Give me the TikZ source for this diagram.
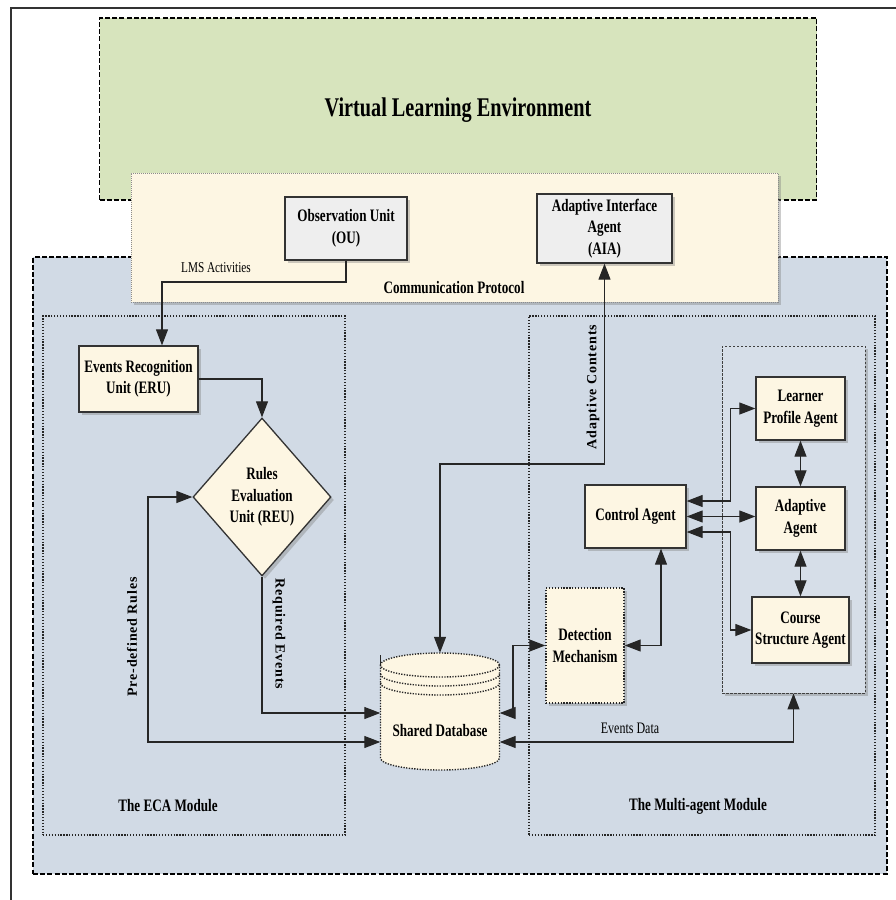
\documentclass[tikz,border=0pt]{standalone}
\usepackage{fontspec}
\setmainfont{Liberation Serif}[FakeStretch=0.75]
\newfontfamily\spacedfont{Liberation Serif}[LetterSpace=6]
\usetikzlibrary{arrows.meta,shapes.geometric,shadows,calc}

\definecolor{vlegreen}{HTML}{D7E4BD}
\definecolor{sysblue}{HTML}{D1DAE5}
\definecolor{agentsblue}{HTML}{D6DEE8}
\definecolor{cream}{HTML}{FDF6E3}
\definecolor{unitgray}{HTML}{EEEEEE}
\definecolor{edge}{HTML}{333333}

\tikzset{
  softshadow/.style={drop shadow={shadow xshift=3pt,shadow yshift=-3pt,opacity=0.4}},
  region/.style={draw=black,line width=1.5pt,dash pattern=on 5pt off 2.2pt,inner sep=0pt},
  module/.style={draw=black!85,line width=1.4pt,dash pattern=on 1.3pt off 1.6pt,inner sep=0pt},
  unitbox/.style={draw=edge,line width=1.3pt,fill=cream,align=center,inner sep=0pt,
    font=\fontsize{17.5}{21.5}\selectfont\bfseries,softshadow},
  graybox/.style={unitbox,fill=unitgray},
  conn/.style={draw=black!85,line width=1.1pt},
  fwd/.style={-{Triangle[length=16pt,width=12pt]}},
  bidi/.style={{Triangle[length=16pt,width=12pt]}-{Triangle[length=16pt,width=12pt]}},
  label/.style={font=\fontsize{17.5}{21}\selectfont\bfseries,inner sep=0pt},
  small/.style={font=\fontsize{15}{18}\selectfont,inner sep=0pt},
  sidelabel/.style={font=\spacedfont\fontsize{14}{16}\selectfont\bfseries,inner sep=0pt},
  dbline/.style={draw=black!85,line width=1.4pt,dash pattern=on 1.3pt off 1.4pt},
}

\begin{document}
\begin{tikzpicture}[x=1pt,y=-1pt]
\useasboundingbox (0,0) rectangle (896,900);
\fill[white] (0,0) rectangle (896,900);

% page frame (left and top edges only are visible)
\draw[black!80,line width=2pt] (11,900) -- (11,8) -- (896,8);

% environment regions
\node[region,fill=vlegreen,minimum width=717pt,minimum height=182pt] (vle) at (458,109) {};
\node[font=\fontsize{27}{30}\selectfont\bfseries] (title) at (458,110) {Virtual Learning Environment};

\node[region,fill=sysblue,minimum width=854pt,minimum height=617pt] (sys) at (460,565.5) {};

\node[draw=black!45,line width=0.8pt,dash pattern=on 1pt off 1pt,fill=cream,inner sep=0pt,
      minimum width=647pt,minimum height=129pt,softshadow] (comm) at (454.5,237.5) {};

\node[module,minimum width=302pt,minimum height=519pt] (eca) at (194,575.5) {};
\node[module,minimum width=346pt,minimum height=519pt] (mam) at (702,575.5) {};
\node[draw=black!75,line width=0.9pt,dash pattern=on 2.5pt off 1.5pt,fill=agentsblue,
      inner sep=0pt,minimum width=143pt,minimum height=347pt,softshadow] (agents) at (793.5,519.5) {};

% communication protocol units
\node[graybox,minimum width=122pt,minimum height=63pt] (ou) at (346,228.5) {Observation Unit\\(OU)};
\node[graybox,minimum width=135pt,minimum height=69pt] (aia) at (604.5,228.5) {Adaptive Interface\\Agent\\(AIA)};
\node[label] (cplabel) at (454,288) {Communication Protocol};
\node[small] (lmslabel) at (216,268) {LMS Activities};

% ECA module
\node[unitbox,minimum width=119pt,minimum height=66pt] (eru) at (138.5,379) {Events Recognition\\Unit (ERU)};
\node[unitbox,shape=diamond,minimum width=138pt,minimum height=158pt] (reu) at (262,497) {Rules\\Evaluation\\Unit (REU)};

% shared database
\node[inner sep=0pt,minimum width=119pt,minimum height=117pt] (db) at (440,711.5) {};
\fill[cream] (380.5,665) -- (380.5,758)
  arc[start angle=180,end angle=360,x radius=59.5pt,y radius=12pt] -- (499.5,665)
  arc[start angle=0,end angle=180,x radius=59.5pt,y radius=12pt] -- cycle;
\draw[dbline] (440,665) ellipse[x radius=59.5pt,y radius=12pt];
\draw[dbline] (380.5,674) arc[start angle=180,end angle=360,x radius=59.5pt,y radius=12pt];
\draw[dbline] (380.5,683) arc[start angle=180,end angle=360,x radius=59.5pt,y radius=12pt];
\draw[dbline] (380.5,665) -- (380.5,758)
  arc[start angle=180,end angle=360,x radius=59.5pt,y radius=12pt] -- (499.5,665);
\draw[black!85,line width=1pt] (380.5,655) -- (380.5,665);
\node[label] (dblabel) at (440,731) {Shared Database};

% multi-agent module
\node[unitbox,draw=black!85,line width=1.4pt,dash pattern=on 1.3pt off 1.6pt,drop shadow={opacity=0},
      minimum width=78pt,minimum height=115pt] (det) at (585,645.5) {Detection\\Mechanism};
\node[unitbox,minimum width=101pt,minimum height=63pt] (ctrl) at (635.5,516.5) {Control Agent};
\node[unitbox,minimum width=89pt,minimum height=63pt] (lpa) at (800.5,408.5) {Learner\\Profile Agent};
\node[unitbox,minimum width=89pt,minimum height=63pt] (ada) at (800.5,518.5) {Adaptive\\Agent};
\node[unitbox,minimum width=97pt,minimum height=66pt] (csa) at (800.5,630) {Course\\Structure Agent};

% module captions
\node[label] (ecalabel) at (168,806) {The ECA Module};
\node[label] (mamlabel) at (698,806) {The Multi-agent Module};

% connectors
\coordinate (lmsbend) at (162,282);
\draw[conn,fwd] (ou.south) |- (lmsbend) -- (eru.north -| lmsbend);
\draw[conn,fwd] (eru.east) -| (reu.north);

\coordinate (rulesbend) at (148,742);
\draw[conn,bidi] (reu.west) -| (rulesbend) -- (db.west |- rulesbend);
\node[sidelabel,rotate=90] (rulestext) at (132,637) {Pre-defined Rules};

\coordinate (eventsbend) at (262,713);
\draw[conn,fwd] (reu.south) -- (eventsbend) -- (db.west |- eventsbend);
\node[sidelabel,rotate=-90] (eventstext) at (279,634) {Required Events};

\coordinate (contentsbend) at (604.5,464);
\draw[conn,bidi] (aia.south) -- (contentsbend) -| (db.north);
\node[sidelabel,rotate=90] (contentstext) at (593,387) {Adaptive Contents};

\coordinate (detbend) at (513,713);
\draw[conn,bidi] (det.west) -| (detbend) -- (db.east |- detbend);
\draw[conn,bidi] (det.east) -| ([xshift=25.5pt]ctrl.south);

\draw[conn,bidi] ([yshift=15.5pt]ctrl.east) -| ($(lpa.west)+(-25,0)$) -- (lpa.west);
\draw[conn,bidi] (ctrl.east) -- (ctrl.east -| ada.west);
\draw[conn,bidi] ([yshift=-15.5pt]ctrl.east) -| ($(csa.west)+(-21,0)$) -- (csa.west);
\draw[conn,bidi] (lpa.south) -- (ada.north);
\draw[conn,bidi] (ada.south) -- (csa.north);

\coordinate (databend) at (793.5,742);
\draw[conn,bidi] (agents.south) -- (databend) -- (db.east |- databend);
\node[font=\fontsize{16}{18}\selectfont,inner sep=0pt] (datalabel) at (630,728) {Events Data};
\end{tikzpicture}
\end{document}
